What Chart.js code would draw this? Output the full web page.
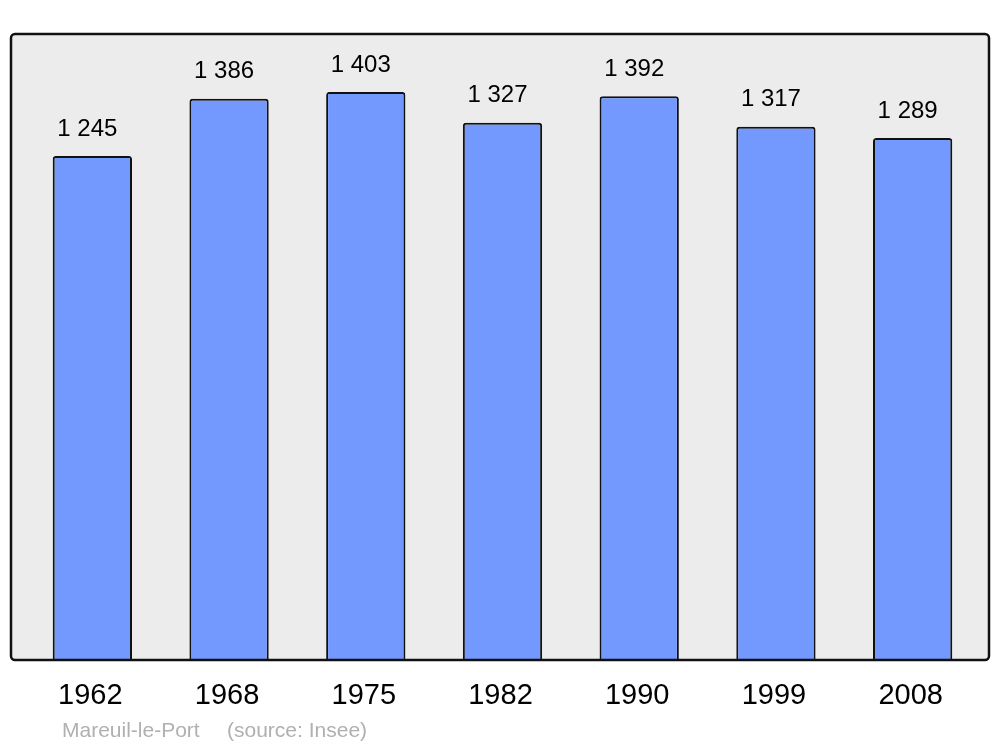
<!DOCTYPE html>
<html>
<head>
<meta charset="utf-8">
<script src="https://cdn.jsdelivr.net/npm/chart.js@4"></script>
<style>
  html, body { margin: 0; padding: 0; background: #fff; }
  #wrap { width: 1000px; height: 747px; position: relative; }
</style>
</head>
<body>
<div id="wrap"><canvas id="graphique"></canvas></div>
<script>
// données (Insee)
const annees = ['1962', '1968', '1975', '1982', '1990', '1999', '2008'];
const population = [1245, 1386, 1403, 1327, 1392, 1317, 1289];
const etiquettes = ['1 245', '1 386', '1 403', '1 327', '1 392', '1 317', '1 289'];
const commune = 'Mareuil-le-Port';
const source = '(source: Insee)';

// cadre gris arrondi derrière les barres + textes
const cadre = {
    id: 'cadre',
    beforeDatasetsDraw(chart) {
        const { ctx } = chart;
        ctx.save();
        ctx.beginPath();
        ctx.roundRect(11, 34, 978, 626, 4);
        ctx.fillStyle = '#ececec';
        ctx.fill();
        ctx.restore();
    },
    afterDatasetsDraw(chart) {
        const { ctx } = chart;
        ctx.save();
        ctx.beginPath();
        ctx.roundRect(11, 34, 978, 626, 4);
        ctx.lineWidth = 2.5;
        ctx.strokeStyle = '#111';
        ctx.stroke();

        const xs = chart.scales.x, ys = chart.scales.y;
        ctx.fillStyle = '#000';
        ctx.textAlign = 'center';
        ctx.textBaseline = 'middle';
        ctx.font = '24px "Liberation Sans", Arial, sans-serif';
        population.forEach((v, i) => {
            ctx.fillText(etiquettes[i], xs.getPixelForValue(i) - 5, ys.getPixelForValue(v) - 27);
        });
        ctx.font = '29px "Liberation Sans", Arial, sans-serif';
        annees.forEach((a, i) => {
            ctx.fillText(a, xs.getPixelForValue(i) - 2, 696);
        });
        ctx.font = '21px "Liberation Sans", Arial, sans-serif';
        ctx.fillStyle = '#b0b0b0';
        ctx.textAlign = 'left';
        ctx.fillText(commune, 62, 731);
        ctx.fillText(source, 227, 731);
        ctx.restore();
    }
};

new Chart(document.getElementById('graphique'), {
    type: 'bar',
    data: {
        labels: annees,
        datasets: [{
            data: population,
            backgroundColor: '#7399ff',
            borderColor: '#111',
            borderWidth: 2,
            borderRadius: 3,
            borderSkipped: 'start',
            barPercentage: 0.58,
            categoryPercentage: 1
        }]
    },
    options: {
        responsive: true,
        maintainAspectRatio: false,
        animation: false,
        devicePixelRatio: 1,
        layout: { padding: { left: 24, right: 19, top: 34, bottom: 87 } },
        plugins: { legend: { display: false }, tooltip: { enabled: false } },
        scales: {
            x: { display: false },
            y: { display: false, min: 0, max: 1546 }
        }
    },
    plugins: [cadre]
});
</script>
</body>
</html>
